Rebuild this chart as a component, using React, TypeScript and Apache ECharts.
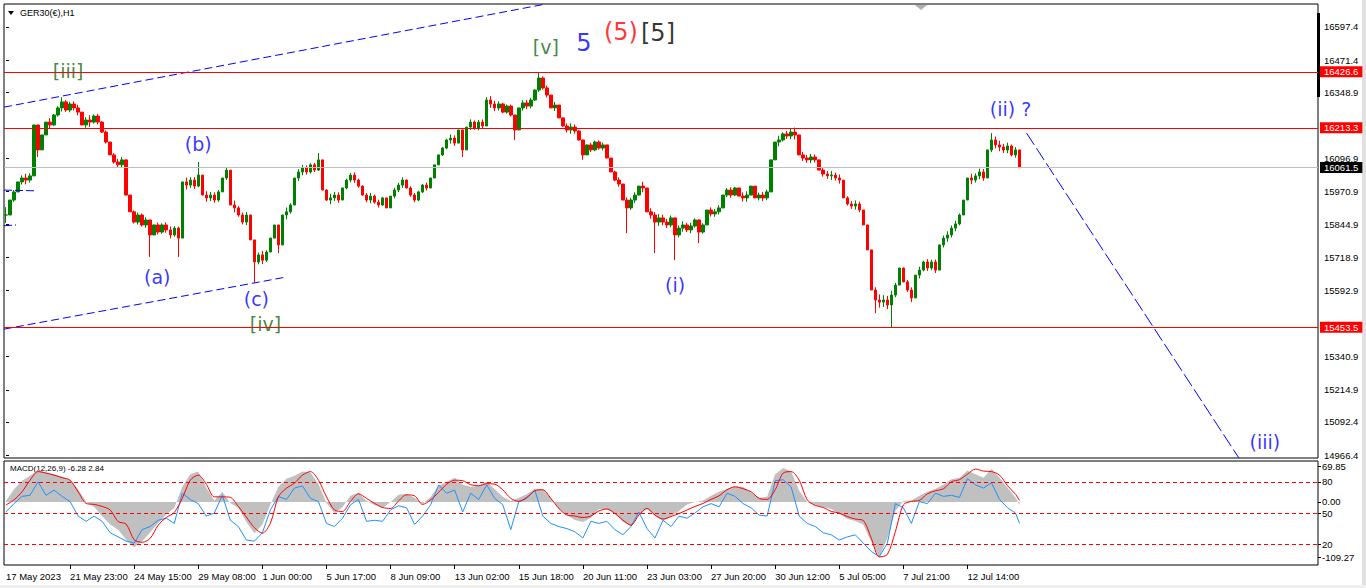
import React, { useEffect, useRef } from "react";
import * as echarts from "echarts";

// ---------- data ----------
const NCAT = 328; // 4-hour slots across the plot
const timeLabels = [
  "17 May 2023", "21 May 23:00", "24 May 15:00", "29 May 08:00", "1 Jun 00:00",
  "5 Jun 17:00", "8 Jun 09:00", "13 Jun 02:00", "15 Jun 18:00", "20 Jun 11:00",
  "23 Jun 03:00", "27 Jun 20:00", "30 Jun 12:00", "5 Jul 05:00", "7 Jul 21:00", "12 Jul 14:00",
];
const LABEL_EVERY = 16;

// 4-hour closes (GER30)
const closes = [
  15881, 15938, 15969, 16007, 16022, 16014, 16030, 16224, 16129, 16186,
  16235, 16224, 16262, 16289, 16312, 16281, 16304, 16289, 16273, 16224,
  16243, 16235, 16258, 16235, 16197, 16159, 16110, 16083, 16072, 16091,
  15957, 15893, 15854, 15881, 15843, 15862, 15805, 15843, 15816, 15843,
  15824, 15805, 15831, 15793, 16007, 15995, 16014, 15991, 16033, 15957,
  15946, 15957, 15938, 15969, 16022, 16052, 15919, 15908, 15881, 15854,
  15881, 15786, 15702, 15729, 15709, 15740, 15793, 15843, 15767, 15881,
  15893, 15919, 16022, 16045, 16060, 16045, 16072, 16052, 16091, 15976,
  15938, 15946, 15957, 15938, 15984, 16014, 16033, 16014, 15991, 15957,
  15938, 15953, 15930, 15919, 15946, 15908, 15953, 15976, 15995, 16014,
  15984, 15957, 15938, 15969, 15995, 15984, 16022, 16072, 16110, 16136,
  16167, 16174, 16155, 16205, 16129, 16216, 16235, 16212, 16235, 16220,
  16319, 16304, 16289, 16304, 16273, 16296, 16262, 16205, 16289, 16308,
  16296, 16319, 16357, 16403, 16365, 16338, 16289, 16300, 16251, 16220,
  16205, 16216, 16201, 16167, 16110, 16148, 16129, 16159, 16136, 16148,
  16098, 16045, 16014, 15999, 15938, 15908, 15938, 15957, 15991, 15984,
  15893, 15881, 15854, 15870, 15854, 15843, 15870, 15805, 15831, 15843,
  15824, 15839, 15862, 15816, 15843, 15900, 15885, 15893, 15908, 15957,
  15976, 15957, 15984, 15953, 15946, 15957, 15991, 15946, 15957, 15946,
  15969, 16091, 16159, 16167, 16190, 16182, 16197, 16186, 16110, 16098,
  16091, 16102, 16091, 16052, 16037, 16030, 16033, 16022, 16014, 15946,
  15923, 15915, 15923, 15900, 15843, 15748, 15595, 15557, 15549, 15557,
  15538, 15576, 15614, 15679, 15626, 15595, 15565, 15652, 15671, 15702,
  15679, 15702, 15671, 15767, 15793, 15805, 15831, 15847, 15881, 15938,
  16022, 16014, 16030, 16045, 16022, 16129, 16167, 16148, 16140, 16129,
  16144, 16110, 16129, 16061.5,
];
// typical 4-hour high-low range (points)
const ranges = [
  60, 55, 45, 40, 35, 40, 35, 70, 60, 55,
  45, 40, 45, 40, 50, 45, 40, 35, 40, 45,
  40, 45, 35, 40, 45, 50, 45, 40, 35, 40,
  70, 60, 50, 45, 50, 40, 45, 40, 45, 40,
  40, 45, 40, 50, 80, 45, 40, 45, 50, 55,
  40, 35, 40, 45, 50, 45, 60, 45, 40, 45,
  50, 60, 55, 45, 50, 45, 55, 50, 60, 50,
  45, 40, 55, 45, 40, 35, 40, 35, 45, 60,
  45, 40, 35, 40, 45, 40, 35, 40, 35, 40,
  35, 40, 35, 30, 35, 40, 35, 40, 35, 40,
  35, 40, 35, 40, 35, 30, 40, 45, 40, 35,
  40, 35, 40, 45, 50, 45, 40, 35, 40, 35,
  50, 45, 40, 35, 40, 35, 45, 50, 55, 40,
  35, 40, 45, 60, 50, 45, 40, 35, 40, 35,
  35, 40, 35, 40, 50, 40, 35, 40, 35, 30,
  40, 45, 40, 35, 45, 50, 45, 40, 35, 40,
  45, 40, 50, 45, 40, 35, 45, 55, 45, 40,
  35, 40, 35, 50, 40, 45, 35, 30, 35, 40,
  35, 40, 35, 30, 35, 40, 35, 40, 30, 35,
  40, 70, 45, 40, 35, 30, 40, 45, 50, 35,
  30, 35, 30, 40, 35, 30, 35, 30, 35, 45,
  35, 30, 35, 40, 50, 70, 80, 60, 50, 45,
  50, 70, 55, 50, 55, 45, 50, 55, 45, 40,
  45, 40, 50, 55, 45, 40, 45, 40, 45, 50,
  55, 40, 35, 40, 45, 60, 55, 45, 40, 35,
  40, 45, 40, 45,
];
// isolated wicks: [bar index, extreme price]
const spikes: [number, number][] = [
  [8, 16102], [14, 16330], [36, 15721], [43, 15721], [48, 16083], [55, 16064],
  [62, 15622], [68, 15736], [78, 16117], [114, 16102], [120, 16330], [127, 16167],
  [133, 16426], [144, 16091], [155, 15812], [162, 15736], [167, 15709], [173, 15774],
  [197, 16212], [217, 15507], [221, 15454], [226, 15549], [232, 15660], [246, 16193],
];

const redLevels = [16426.6, 16213.3, 15453.5];
const bidLevel = 16061.5;
const priceTicks = [16597.4, 16471.4, 16348.9, 16096.9, 15970.9, 15844.9, 15718.9, 15592.9, 15340.9, 15214.9, 15092.4, 14966.4];

// MACD panel, sampled every 8 hours (last point = last bar)
const macdMain = [
  2, 25, 42, 52, 63, 58, 55, 50, 44, 25,
  0, -10, -28, -45, -55, -75, -90, -78, -60, -42,
  -25, -12, 30, 55, 60, 28, 3, 20, -2, -12,
  -40, -62, -45, -5, 30, 46, 52, 60, 58, 35,
  -2, -22, -10, 12, 18, 2, -6, -12, 0, 14,
  16, 8, -4, 10, 32, 40, 48, 34, 30, 32,
  40, 25, 10, 2, 8, 15, 26, 25, 8, -14,
  -26, -36, -40, -32, -14, -15, -22, -40, -48, -25,
  -14, -28, -38, -28, -18, -5, 0, 3, 12, 20,
  26, 30, 30, 18, 8, 10, 55, 67, 60, 22,
  0, -6, -10, -14, -24, -34, -38, -45, -80, -110,
  -72, -18, 2, 3, 12, 20, 26, 34, 45, 48,
  62, 55, 48, 65, 48, 28, 8, -6.28,
];
const macdSignal = [
  -6, 4, 20, 43, 60, 57, 53, 48, 43, 20,
  -3, -5, -9, -16, -39, -44, -75, -80, -72, -46,
  -31, -21, 7, 43, 53, 35, 10, 10, 9, -9,
  -30, -51, -62, -42, 10, 27, 37, 53, 60, 43,
  10, -16, -19, 1, 16, 7, -3, -11, -13, 2,
  14, 12, -5, 4, 19, 35, 43, 42, 34, 32,
  36, 35, 24, 7, 1, 9, 22, 24, 7, -13,
  -26, -28, -31, -28, -18, -14, -23, -36, -46, -26,
  -13, -26, -34, -29, -23, -16, -9, -3, 5, 12,
  24, 30, 26, 20, 7, 5, 24, 57, 60, 43,
  4, -7, -11, -19, -22, -29, -34, -37, -72, -109,
  -104, -59, -6, 1, 3, 16, 22, 26, 40, 44,
  55, 65, 61, 60, 53, 32, 15, 2.84,
];
const oscLine = [
  51, 59, 66, 67, 80, 67, 72, 66, 61, 47,
  42, 47, 42, 31, 27, 23, 21, 34, 37, 43,
  45, 40, 69, 63, 59, 47, 50, 67, 43, 37,
  24, 23, 31, 53, 66, 63, 74, 76, 64, 61,
  40, 37, 45, 58, 63, 42, 43, 42, 53, 57,
  55, 39, 47, 58, 77, 69, 72, 51, 69, 63,
  77, 64, 58, 34, 61, 64, 72, 47, 40, 37,
  35, 32, 26, 42, 40, 42, 34, 29, 37, 51,
  35, 26, 43, 37, 47, 45, 50, 56, 59, 56,
  69, 66, 59, 55, 48, 47, 81, 82, 75, 47,
  40, 37, 31, 29, 24, 27, 29, 21, 13, 8,
  21, 59, 55, 40, 61, 59, 69, 66, 67, 65,
  83, 77, 74, 79, 63, 55, 50, 40,
];
const macdTicks = [69.85, 0, -109.27];
const oscLevels = [80, 50, 20];

// Elliott wave labels: [text, bar index, price, colour, size]
const waveLabels: [string, number, number, string, number][] = [
  ["[iii]", 15.5, 16429, "#0f6a0f", 19],
  ["(a)", 37.75, 15644, "#0000ff", 19],
  ["(b)", 48, 16151, "#0000ff", 19],
  ["(c)", 62.5, 15561, "#0000ff", 19],
  ["[iv]", 64.75, 15465, "#0f6a0f", 19],
  ["[v]", 134.75, 16521, "#0f6a0f", 19],
  ["5", 144.25, 16536, "#0000ff", 24],
  ["(5)", 153.5, 16578, "#ff0000", 24],
  ["[5]", 162.75, 16576, "#000000", 24],
  ["(i)", 167, 15614, "#0000ff", 19],
  ["(ii) ?", 250.75, 16285, "#0000ff", 19],
  ["(iii)", 314.25, 15016, "#0000ff", 19],
];

// dashed trend lines: [[bar index, price], [bar index, price]], dash
const trendLines: { pts: [number, number][]; dash: number[] }[] = [
  { pts: [[-0.5, 16292], [134.75, 16685]], dash: [8, 4] },
  { pts: [[-0.5, 15446], [69.75, 15644]], dash: [8, 4] },
  { pts: [[-0.5, 15976], [7.5, 15973]], dash: [8, 3] },
  { pts: [[-0.5, 15840], [2.5, 15843]], dash: [8, 3] },
  { pts: [[254.75, 16193], [307.75, 14955]], dash: [14, 4] },
];

const FONT = "Liberation Sans";

export default function App() {
  const ref = useRef<HTMLDivElement>(null);

  useEffect(() => {
    const chart = echarts.init(ref.current!, null, { renderer: "svg" });

    const cats = Array.from({ length: NCAT }, (_, i) =>
      i % LABEL_EVERY === 0 && timeLabels[i / LABEL_EVERY] ? timeLabels[i / LABEL_EVERY] : ""
    );

    const candles = closes.map((c, i) => {
      const o = i === 0 ? c : closes[i - 1];
      const body = Math.abs(c - o);
      const extra = Math.max(0, ranges[i] - body) / 2;
      let lo = Math.min(o, c) - extra;
      let hi = Math.max(o, c) + extra;
      spikes.forEach(([idx, p]) => {
        if (idx === i) {
          lo = Math.min(lo, p);
          hi = Math.max(hi, p);
        }
      });
      return [o, c, lo, hi];
    });

    const sampleIdx = macdMain.map((_, k) => (k < macdMain.length - 1 ? k * 2 : closes.length - 1));

    const levelLabel = (bg: string) => ({
      show: true,
      position: "end" as const,
      distance: 2,
      color: "#fff",
      backgroundColor: bg,
      padding: [1, 4, 0, 4],
      lineHeight: 10,
      fontSize: 9.5,
      fontFamily: FONT,
    });

    const option: any = {
      animation: false,
      backgroundColor: "#ffffff",
      textStyle: { fontFamily: FONT },
      grid: [
        { left: 4, top: 4, width: 1314, height: 454, show: true, borderColor: "#000", borderWidth: 1, backgroundColor: "transparent" },
        { left: 4, top: 461, width: 1314, height: 104, show: true, borderColor: "#000", borderWidth: 1, backgroundColor: "transparent" },
      ],
      xAxis: [
        { type: "category", gridIndex: 0, data: cats, boundaryGap: true, show: false },
        { type: "value", gridIndex: 0, min: -0.5, max: NCAT - 0.5, show: false },
        {
          type: "category",
          gridIndex: 1,
          data: cats,
          boundaryGap: true,
          position: "bottom",
          axisLine: { show: false, onZero: false },
          splitLine: { show: false },
          axisTick: {
            show: true,
            alignWithLabel: true,
            length: 4,
            interval: (i: number) => i % LABEL_EVERY === 0 && i > 0 && i / LABEL_EVERY < timeLabels.length,
            lineStyle: { color: "#000" },
          },
          axisLabel: { interval: 0, align: "left", margin: 6, fontSize: 9.5, color: "#000", fontFamily: FONT },
        },
      ],
      yAxis: [
        {
          type: "value",
          gridIndex: 0,
          position: "right",
          min: 14955,
          max: 16685,
          axisLine: { show: false },
          splitLine: { show: false },
          axisTick: { show: true, customValues: priceTicks, length: 3, lineStyle: { color: "#000" } },
          axisLabel: {
            customValues: priceTicks,
            formatter: (v: number) => v.toFixed(1),
            margin: 6,
            fontSize: 9.5,
            color: "#000",
            fontFamily: FONT,
          },
        },
        {
          type: "value",
          gridIndex: 1,
          position: "right",
          min: -125,
          max: 81,
          axisLine: { show: false },
          splitLine: { show: false },
          axisTick: { show: true, customValues: macdTicks, length: 3, lineStyle: { color: "#000" } },
          axisLabel: {
            customValues: macdTicks,
            formatter: (v: number) => v.toFixed(2),
            margin: 4,
            fontSize: 9.5,
            color: "#000",
            fontFamily: FONT,
          },
        },
        {
          type: "value",
          gridIndex: 1,
          position: "right",
          min: 0,
          max: 100,
          axisLine: { show: false },
          splitLine: { show: false },
          axisTick: { show: true, customValues: oscLevels, length: 3, lineStyle: { color: "#000" } },
          axisLabel: {
            customValues: oscLevels,
            formatter: (v: number) => String(v),
            margin: 4,
            fontSize: 9.5,
            color: "#000",
            fontFamily: FONT,
          },
        },
      ],
      series: [
        {
          type: "candlestick",
          xAxisIndex: 0,
          yAxisIndex: 0,
          data: candles,
          barWidth: 3,
          silent: true,
          itemStyle: {
            color: "#008000",
            color0: "#ff0000",
            borderColor: "#008000",
            borderColor0: "#ff0000",
            borderWidth: 1,
          },
          markLine: {
            silent: true,
            symbol: ["none", "none"],
            animation: false,
            data: [
              ...redLevels.map((v) => ({
                yAxis: v,
                lineStyle: { color: "#ff0000", width: 1, type: "solid" },
                label: { ...levelLabel("#ff0000"), formatter: v.toFixed(1) },
              })),
              {
                yAxis: bidLevel,
                lineStyle: { color: "#c0c0c0", width: 1, type: "solid" },
                label: { ...levelLabel("#000000"), formatter: bidLevel.toFixed(1) },
              },
            ],
          },
        },
        ...trendLines.map((t) => ({
          type: "line",
          xAxisIndex: 1,
          yAxisIndex: 0,
          data: t.pts,
          symbol: "none",
          silent: true,
          lineStyle: { color: "#0000ff", width: 1, type: t.dash },
        })),
        {
          type: "scatter",
          xAxisIndex: 1,
          yAxisIndex: 0,
          symbolSize: 1,
          silent: true,
          itemStyle: { color: "rgba(0,0,0,0)" },
          data: waveLabels.map(([t, x, y, c, s]) => ({
            name: t,
            value: [x, y],
            label: {
              show: true,
              position: "inside",
              formatter: t,
              color: c,
              fontSize: s,
              fontFamily: "DejaVu Sans",
            },
          })),
        },
        {
          type: "line",
          xAxisIndex: 2,
          yAxisIndex: 1,
          data: macdMain.map((v, k) => [sampleIdx[k], v]),
          symbol: "none",
          silent: true,
          lineStyle: { width: 0, color: "#c0c0c0" },
          areaStyle: { color: "#c0c0c0", opacity: 1 },
          z: 1,
        },
        {
          type: "line",
          xAxisIndex: 2,
          yAxisIndex: 2,
          data: oscLine.map((v, k) => [sampleIdx[k], v]),
          symbol: "none",
          silent: true,
          lineStyle: { width: 1, color: "#1e90ff" },
          z: 3,
          markLine: {
            silent: true,
            symbol: ["none", "none"],
            label: { show: false },
            lineStyle: { color: "#ff0000", width: 1, type: [4, 3] },
            data: oscLevels.map((v) => ({ yAxis: v })),
          },
        },
        {
          type: "line",
          xAxisIndex: 2,
          yAxisIndex: 1,
          data: macdSignal.map((v, k) => [sampleIdx[k], v]),
          symbol: "none",
          smooth: 0.3,
          silent: true,
          lineStyle: { width: 1, color: "#ff0000" },
          z: 4,
        },
      ],
      graphic: [
        { type: "polygon", shape: { points: [[8, 11], [14, 11], [11, 15]] }, style: { fill: "#000" } },
        {
          type: "text",
          x: 20,
          y: 8,
          style: { text: "GER30(€),H1", fill: "#000", font: `9px "${FONT}"`, verticalAlign: "top" },
        },
        {
          type: "text",
          x: 10,
          y: 464,
          style: { text: "MACD(12,26,9) -6.28 2.84", fill: "#000", font: `8px "${FONT}"`, verticalAlign: "top" },
        },
        { type: "polygon", shape: { points: [[915, 5], [927, 5], [921, 10]] }, style: { fill: "#b0b0b0" } },
        { type: "rect", shape: { x: 1317, y: 13, width: 3, height: 84 }, style: { fill: "#000" } },
        { type: "rect", shape: { x: 1362, y: 0, width: 4, height: 588 }, style: { fill: "#e0e0e0" } },
        { type: "rect", shape: { x: 0, y: 585, width: 1366, height: 3 }, style: { fill: "#f0f0f0" } },
      ],
    };

    chart.setOption(option);
    return () => chart.dispose();
  }, []);

  return (
    <div
      ref={ref}
      style={{ position: "fixed", left: 0, top: 0, width: 1366, height: 588, background: "#fff" }}
    />
  );
}
